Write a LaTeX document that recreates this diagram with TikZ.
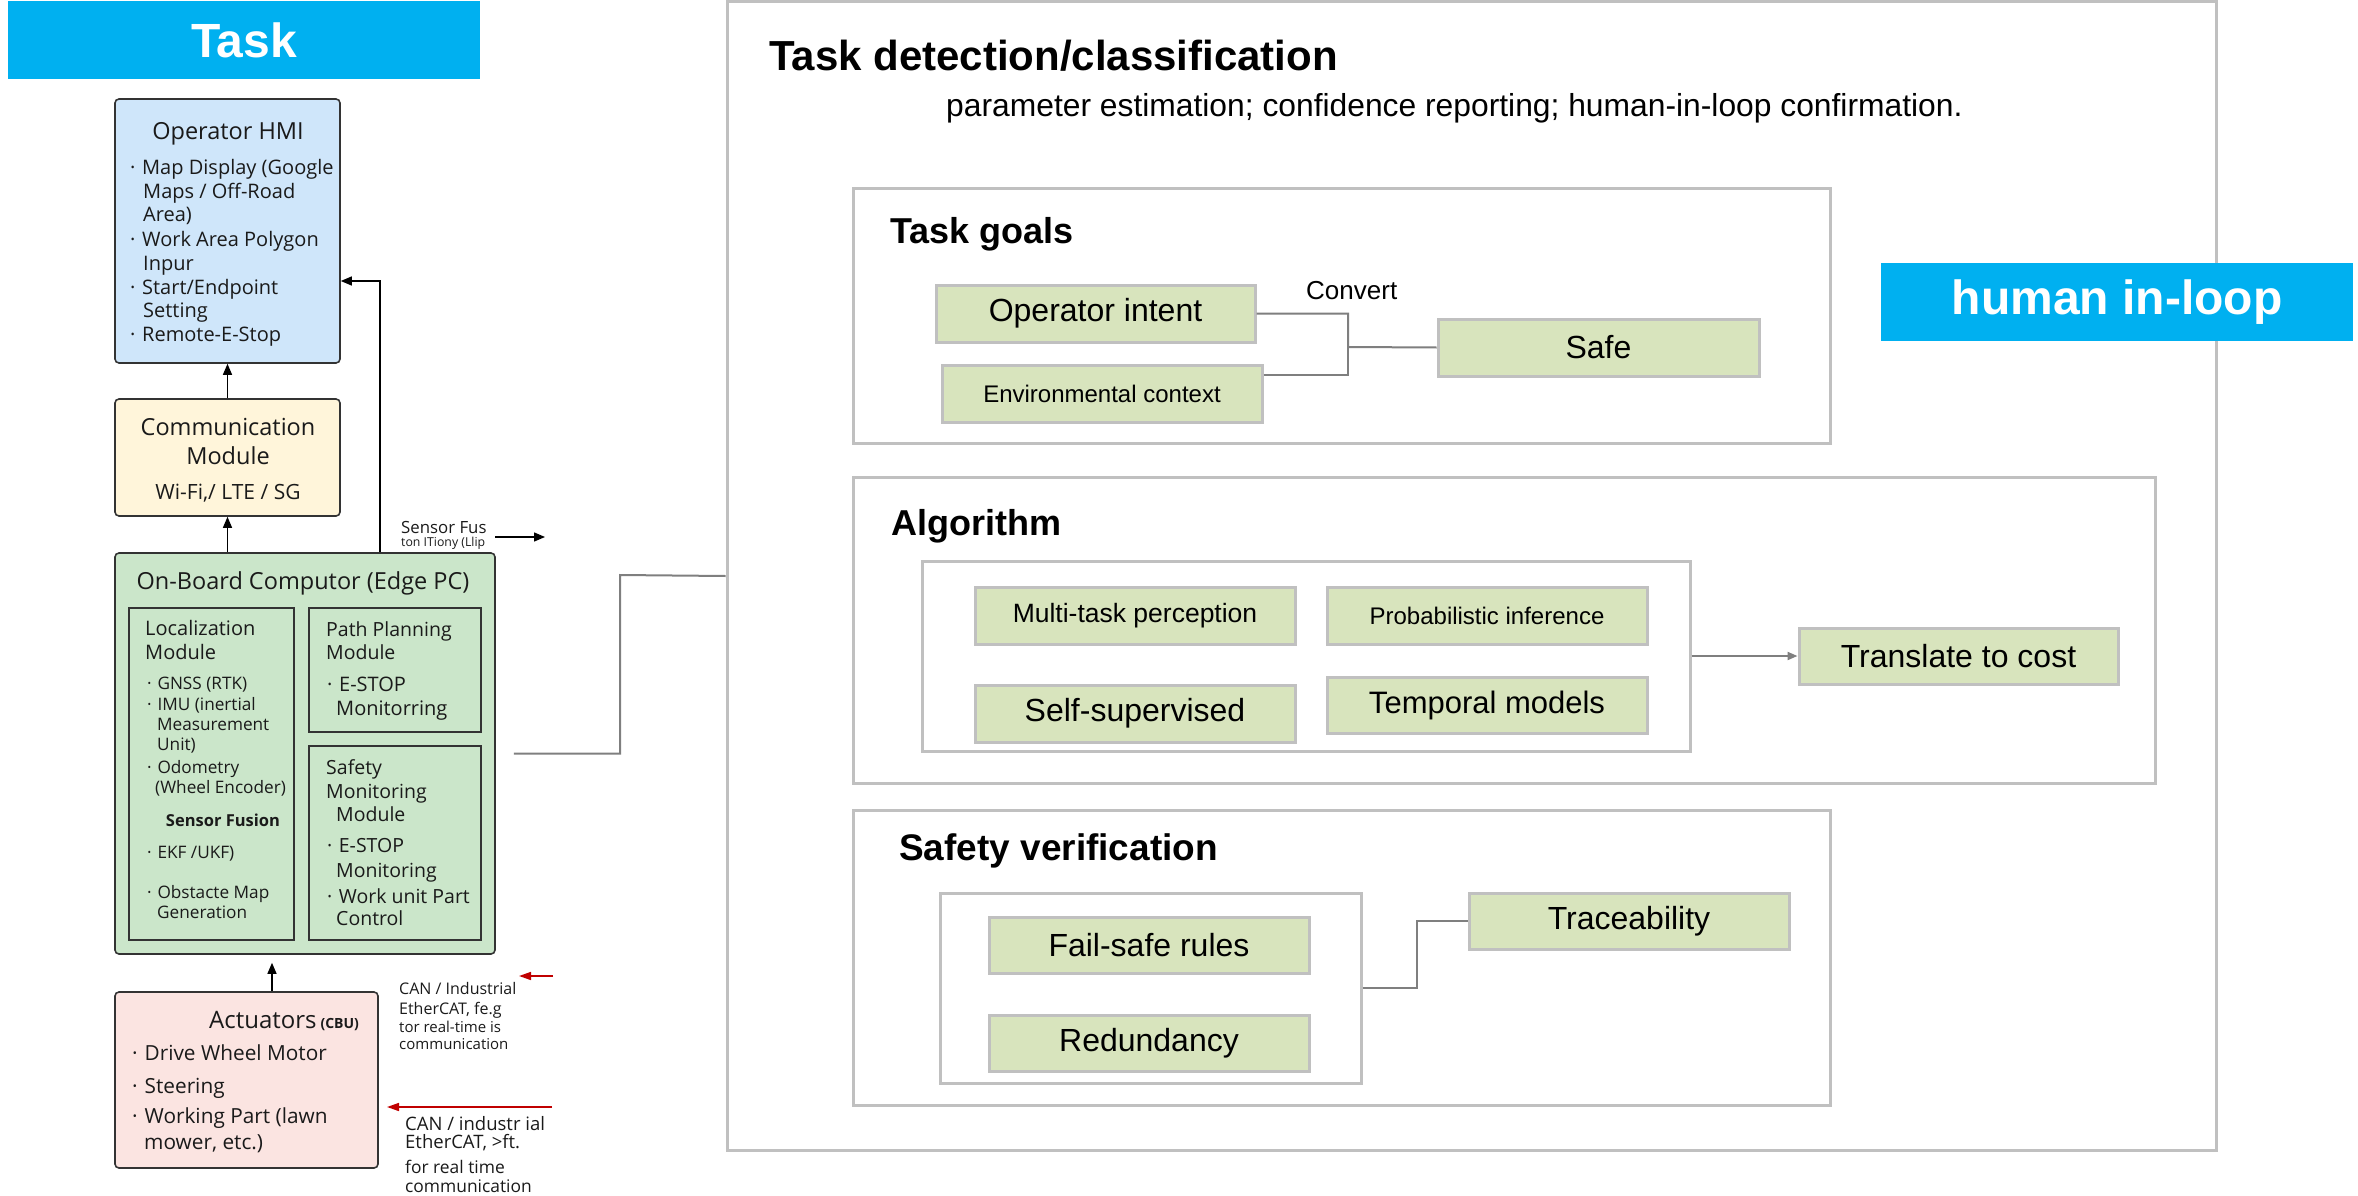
\documentclass[tikz,border=0pt]{standalone}
\usepackage{fontspec}
\setmainfont{Liberation Sans}
\newfontfamily\pts{Open Sans}
\newfontfamily\ars{Liberation Sans}
\usetikzlibrary{arrows.meta,fit}
\definecolor{bannerblue}{HTML}{00B0F0}
\definecolor{hmiblue}{HTML}{CFE6FA}
\definecolor{commcream}{HTML}{FFF5DA}
\definecolor{obgreen}{HTML}{CBE6CA}
\definecolor{actpink}{HTML}{FBE4E1}
\definecolor{olivegreen}{HTML}{D8E4BD}
\definecolor{boxgray}{HTML}{C0C0C0}
\definecolor{linegray}{HTML}{7F7F7F}
\definecolor{darkred}{HTML}{C00000}
\definecolor{edgecol}{HTML}{333333}
\definecolor{txt}{HTML}{1A1A1A}
\newcommand\mybul{\makebox[0.6em][l]{·}}
\begin{document}
\begin{tikzpicture}[x=1pt,y=-1pt,
  lbox/.style={draw=edgecol, line width=1.6pt, rounded corners=4pt, inner sep=0},
  sbox/.style={draw=edgecol, line width=1.1pt, inner sep=0},
  frame/.style={draw=boxgray, line width=3pt, fill=white, inner sep=0},
  gbox/.style={draw=boxgray, line width=3pt, fill=olivegreen, inner sep=0},
  pl/.style={anchor=mid west, inner sep=0, yshift=-4pt, text=txt, font=\pts\fontsize{#1}{#1}\selectfont},
  pc/.style={anchor=mid, inner sep=0, yshift=-4pt, text=txt, font=\pts\fontsize{#1}{#1}\selectfont},
  ar/.style={inner sep=0, font=\ars\fontsize{#1}{#1}\selectfont},
  hd/.style={anchor=base west, inner sep=0, font=\ars\bfseries\fontsize{#1}{#1}\selectfont},
  barrow/.style={draw=black, line width=1.3pt, -{Triangle[length=11pt,width=9pt]}},
  rarrow/.style={draw=darkred, line width=1.6pt, -{Triangle[length=12pt,width=8pt]}},
  gline/.style={draw=linegray, line width=2pt},
  garrow/.style={draw=linegray, line width=2pt, -{Triangle[length=10pt,width=8pt]}},
  banner/.style={fill=bannerblue, inner sep=0},
  btext/.style={inner sep=0, text=white, font=\ars\bfseries\fontsize{#1}{#1}\selectfont}
]
\useasboundingbox (0,0) rectangle (2358,1196);

% ---------------- banners (left)
\node[banner, fit={(8,1)(480,79)}] (taskB) {};
\node[btext=48] (taskT) at (taskB.center) {Task};

% ---------------- left column boxes
\node[lbox, fill=hmiblue, fit={(115,99)(340,363)}] (hmi) {};
\node[lbox, fill=commcream, fit={(115,399)(340,516)}] (comm) {};
\node[lbox, fill=obgreen, fit={(115,553)(495,954)}] (onb) {};
\node[sbox, fit={(129,608)(294,940)}] (loc) {};
\node[sbox, fit={(309,608)(481,732)}] (path) {};
\node[sbox, fit={(309,746)(481,940)}] (safm) {};
\node[lbox, fill=actpink, fit={(115,992)(378,1168)}] (act) {};

% HMI text
\node[pc=23.5] (hmiT) at (228,133) {Operator HMI};
\node[pl=20] (h1) at (130,168) {\mybul Map Display (Google};
\node[pl=20] (h2) at (143,192) {Maps / Off-Road};
\node[pl=20] (h3) at (143,215) {Area)};
\node[pl=20] (h4) at (130,240) {\mybul Work Area Polygon};
\node[pl=20] (h5) at (143,264) {Inpur};
\node[pl=20] (h6) at (130,288) {\mybul Start/Endpoint};
\node[pl=20] (h7) at (143,311) {Setting};
\node[pl=20] (h8) at (130,335) {\mybul Remote-E-Stop};

% Communication text
\node[pc=23.5] (c1) at (228,429) {Communication};
\node[pc=23.5] (c2) at (228,458) {Module};
\node[pc=21] (c3) at (228,493) {Wi-Fi,/ LTE / SG};

% On-board text
\node[pc=23.5] (obT) at (303,583) {On-Board Computor (Edge PC)};
\node[pl=20] (l0) at (145,629) {Localization};
\node[pl=20] (l1) at (145,653) {Module};
\node[pl=17.2] (l2) at (147,683) {\mybul GNSS (RTK)};
\node[pl=17.2] (l3) at (147,704) {\mybul IMU (inertial};
\node[pl=17.2] (l4) at (157,724) {Measurement};
\node[pl=17.2] (l5) at (157,744) {Unit)};
\node[pl=17.2] (l6) at (147,767) {\mybul Odometry};
\node[pl=17.2] (l7) at (155,787) {(Wheel Encoder)};
\node[pc=16.5, font=\pts\bfseries\fontsize{16.5}{16.5}\selectfont] (l8) at (223,820) {Sensor Fusion};
\node[pl=17.2] (l9) at (147,852) {\mybul EKF /UKF)};
\node[pl=17.2] (l10) at (147,892) {\mybul Obstacte Map};
\node[pl=17.2] (l11) at (157,912) {Generation};

\node[pl=19.5] (p0) at (326,630) {Path Planning};
\node[pl=19.5] (p1) at (326,653) {Module};
\node[pl=20] (p2) at (327,685) {\mybul E-STOP};
\node[pl=20] (p3) at (336,709) {Monitorring};

\node[pl=19.5] (s0) at (326,768) {Safety};
\node[pl=19.5] (s1) at (326,792) {Monitoring};
\node[pl=19.5] (s2) at (336,815) {Module};
\node[pl=19.5] (s3) at (327,846) {\mybul E-STOP};
\node[pl=19.5] (s4) at (336,871) {Monitoring};
\node[pl=19.5] (s5) at (327,897) {\mybul Work unit Part};
\node[pl=19.5] (s6) at (336,919) {Control};

% Actuators text
\node[pl=24] (aT) at (209,1022) {Actuators\,{\bfseries\fontsize{14}{14}\selectfont(CBU)}};
\node[pl=20.8] (a1) at (132,1054) {\mybul Drive Wheel Motor};
\node[pl=20.8] (a2) at (132,1087) {\mybul Steering};
\node[pl=20.8] (a3) at (132,1117) {\mybul Working Part (lawn};
\node[pl=20.8] (a4) at (144,1143) {mower, etc.)};

% side labels
\node[pl=16.8] (sf1) at (401,527) {Sensor Fus};
\node[pl=12.3] (sf2) at (401,540) {ton ITiony (Llip};
\node[pl=16] (n1) at (399,988) {CAN / Industrial};
\node[pl=16] (n2) at (399,1008) {EtherCAT, fe.g};
\node[pl=15] (n3) at (399,1026) {tor real-time is};
\node[pl=15] (n4) at (399,1043) {communication};
\node[pl=18.5] (m1) at (405,1124) {CAN / industr ial};
\node[pl=18.5] (m2) at (405,1142) {EtherCAT, >ft.};
\node[pl=17.4] (m3) at (405,1167) {for real time};
\node[pl=17.4] (m4) at (405,1186) {communication};

% left arrows
\coordinate (vx) at (380,281);
\coordinate (ax) at (272,0);
\coordinate (sa1) at (495,537);
\coordinate (sa2) at (545,537);
\coordinate (r1s) at (553,976);
\coordinate (r1e) at (519,976);
\coordinate (r2s) at (552,1107);
\coordinate (r2e) at (387,1107);
\draw[barrow] (comm.north) -- (hmi.south);
\draw[barrow] (onb.north -| comm.north) -- (comm.south);
\draw[barrow, shorten >=8pt] (act.north -| ax) -- (onb.south -| ax);
\draw[barrow] (onb.north -| vx) -- (vx) -- (hmi.east |- vx);
\draw[barrow] (sa1) -- (sa2);
\draw[rarrow] (r1s) -- (r1e);
\draw[rarrow] (r2s) -- (r2e);

% ---------------- right side
\node[frame, fit={(727,2)(2216,1150)}] (big) {};
\coordinate (bend) at (620,575);
\draw[gline] ([xshift=18pt]onb.east) -| (bend) -- (big.west);

\node[hd=42] (bigT) at (769,71) {Task detection/classification};
\node[anchor=base west, ar=31.8] (bigS) at (946,117) {parameter estimation; confidence reporting; human-in-loop confirmation.};

% Task goals
\node[frame, fit={(853,188)(1830,443)}] (tg) {};
\node[hd=36] (tgT) at (890,243) {Task goals};
\node[gbox, fit={(936,285)(1255,342)}] (opi) {};
\node[ar=32] (opiT) at (opi.center) {Operator intent};
\node[gbox, fit={(942,365)(1262,422)}] (env) {};
\node[ar=24] (envT) at (env.center) {Environmental context};
\node[gbox, fit={(1438,319)(1759,376)}] (safe) {};
\node[ar=32] (safeT) at (safe.center) {Safe};
\node[anchor=base west, ar=26] (conv) at (1306,299) {Convert};
\coordinate (cj) at (1348,347);
\draw[gline] (opi.east) -| (cj) -- (safe.west);
\draw[gline] ([yshift=18.5pt]env.east) -| (cj);

% Algorithm
\node[frame, fit={(853,477)(2155,783)}] (alg) {};
\node[hd=36] (algT) at (891,535) {Algorithm};
\node[frame, fit={(922,561)(1690,751)}] (algin) {};
\node[gbox, fit={(975,587)(1295,644)}] (mtp) {};
\node[ar=26.5] (mtpT) at (mtp.center) {Multi-task perception};
\node[gbox, fit={(1327,587)(1647,644)}] (pin) {};
\node[ar=24] (pinT) at (pin.center) {Probabilistic inference};
\node[gbox, fit={(975,685)(1295,742)}] (ssv) {};
\node[ar=32] (ssvT) at (ssv.center) {Self-supervised};
\node[gbox, fit={(1327,677)(1647,733)}] (tem) {};
\node[ar=31] (temT) at (tem.center) {Temporal models};
\node[gbox, fit={(1799,628)(2118,684)}] (tco) {};
\node[ar=32] (tcoT) at (tco.center) {Translate to cost};
\draw[garrow] (algin.east) -- (tco.west);

% Safety verification
\node[frame, fit={(853,810)(1830,1105)}] (sv) {};
\node[hd=37] (svT) at (899,860) {Safety verification};
\node[frame, fit={(940,893)(1361,1083)}] (svin) {};
\node[gbox, fit={(989,917)(1309,973)}] (fsr) {};
\node[ar=32] (fsrT) at (fsr.center) {Fail-safe rules};
\node[gbox, fit={(989,1015)(1309,1071)}] (rdn) {};
\node[ar=32] (rdnT) at (rdn.center) {Redundancy};
\node[gbox, fit={(1469,893)(1789,949)}] (tra) {};
\node[ar=32] (traT) at (tra.center) {Traceability};
\draw[gline] (svin.east) -- ++(54,0) |- (tra.west);

% human in-loop banner
\node[banner, fit={(1881,263)(2353,341)}] (hil) {};
\node[btext=48] (hilT) at (hil.center) {human in-loop};
\end{tikzpicture}
\end{document}
